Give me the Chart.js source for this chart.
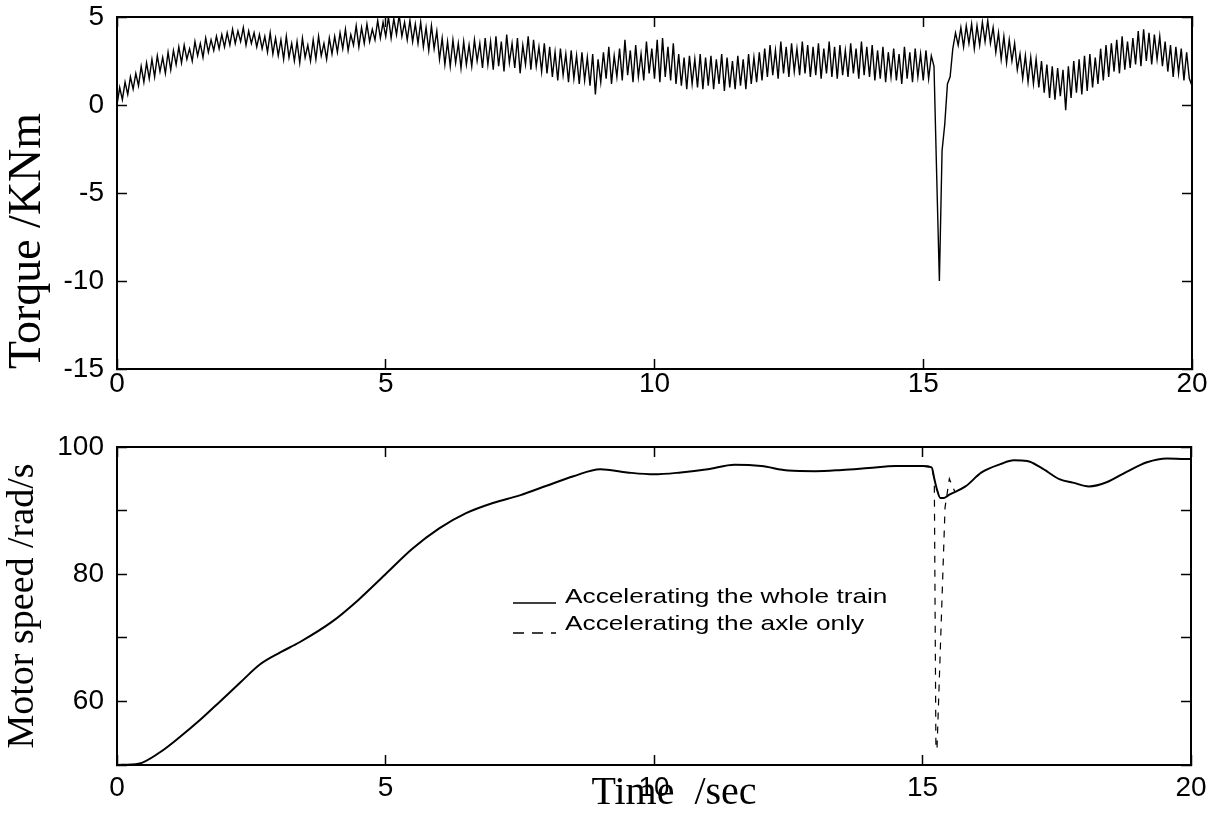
<!DOCTYPE html>
<html>
<head>
<meta charset="utf-8">
<script src="https://cdn.jsdelivr.net/npm/chart.js@4.4.1/dist/chart.umd.min.js"></script>
<style>
  html, body { margin: 0; padding: 0; background: #fff; }
  #wrap { position: relative; width: 1216px; height: 823px; overflow: hidden; }
  canvas { position: absolute; left: 0; }
  #torqueChart { top: 0; }
  #speedChart { top: 420px; }
</style>
</head>
<body>
<div id="wrap">
  <canvas id="torqueChart" width="1216" height="420"></canvas>
  <canvas id="speedChart" width="1216" height="403"></canvas>
</div>
<script>
// ============================================================================
// DATA
// ============================================================================

// Torque sampled every 0.05 s from 0 to 20 s (KNm)
const TORQUE_STEP = 0.05;
const torqueValues = [
  0.0, 1.0, 0.3, 1.3, 0.6, 1.6, 0.9, 1.8, 1.1, 2.2, 1.3, 2.4, 1.5, 2.6, 1.6, 2.8, 1.9, 2.7, 1.8, 3.0,
  2.0, 3.1, 2.3, 3.3, 2.4, 3.4, 2.6, 3.2, 2.5, 3.6, 2.8, 3.5, 2.7, 3.8, 3.0, 3.7, 3.1, 3.9, 3.2, 4.0,
  3.3, 4.1, 3.4, 4.3, 3.5, 4.2, 3.6, 4.4, 3.4, 4.2, 3.5, 4.1, 3.3, 4.0, 3.2, 3.9, 3.0, 4.1, 2.9, 3.8,
  2.8, 3.7, 2.6, 3.9, 2.7, 3.5, 2.5, 3.6, 2.4, 3.8, 2.7, 3.4, 2.5, 3.7, 2.6, 3.9, 2.8, 3.5, 2.6, 3.8,
  2.9, 3.9, 3.0, 4.1, 3.2, 4.3, 3.1, 4.0, 3.4, 4.5, 3.3, 4.4, 3.5, 4.6, 3.6, 4.3, 3.7, 4.8, 3.8, 4.7,
  3.9, 5.0, 3.8, 4.9, 4.0, 5.1, 3.9, 4.7, 3.7, 4.8, 3.6, 4.6, 3.5, 4.7, 3.3, 4.4, 3.1, 4.5, 3.2, 4.2,
  2.6, 3.8, 2.3, 3.6, 2.2, 3.7, 2.4, 3.5, 2.1, 3.6, 2.3, 3.4, 2.2, 3.7, 2.5, 3.5, 2.1, 3.8, 2.3, 3.6,
  2.0, 3.9, 2.2, 3.6, 1.9, 4.0, 2.4, 3.5, 2.1, 3.8, 1.8, 3.4, 2.3, 3.9, 2.0, 3.7, 2.2, 3.3, 1.9, 3.5,
  1.8, 3.3, 1.6, 3.0, 1.4, 3.2, 1.7, 2.9, 1.3, 3.1, 1.5, 2.8, 1.2, 3.0, 1.4, 2.7, 1.1, 2.9, 0.6, 2.6,
  1.3, 3.0, 1.5, 3.3, 1.2, 2.8, 1.6, 3.2, 1.4, 3.7, 1.7, 3.1, 1.3, 3.4, 1.6, 2.9, 1.4, 3.6, 1.8, 3.2,
  1.5, 3.7, 1.3, 3.8, 1.6, 3.3, 1.4, 3.5, 1.2, 2.9, 1.1, 2.7, 0.9, 2.8, 1.2, 2.6, 1.0, 2.9, 0.9, 2.7,
  1.1, 2.8, 0.9, 2.6, 1.2, 2.9, 0.8, 2.7, 1.0, 2.5, 0.9, 2.8, 1.1, 2.6, 0.9, 2.9, 1.2, 2.7, 1.3, 3.0,
  1.4, 3.2, 1.6, 3.4, 1.7, 3.1, 1.5, 3.6, 1.8, 3.3, 1.6, 3.5, 1.9, 3.2, 1.7, 3.6, 1.8, 3.4, 1.6, 3.3,
  1.7, 3.5, 1.5, 3.2, 1.8, 3.6, 1.6, 3.3, 1.5, 3.4, 1.7, 3.1, 1.6, 3.5, 1.8, 3.2, 1.5, 3.6, 1.7, 3.3,
  1.6, 3.4, 1.4, 3.1, 1.5, 3.3, 1.3, 3.0, 1.6, 3.2, 1.4, 2.9, 1.2, 3.3, 1.5, 3.0, 1.3, 3.2, 1.6, 2.9,
  1.4, 3.1, 1.5, 2.8, 2.2, -4.0, -10.0, -2.6, -1.1, 1.2, 1.6, 3.2, 4.1, 3.4, 4.4, 3.3, 4.5, 3.5, 4.6, 3.2,
  4.5, 3.4, 4.7, 3.6, 4.8, 3.5, 4.4, 3.0, 4.1, 2.6, 3.9, 2.4, 3.7, 2.5, 3.5, 2.0, 2.9, 1.5, 2.8, 1.3,
  2.7, 1.2, 2.6, 1.0, 2.5, 0.7, 2.3, 0.4, 2.2, 0.3, 2.1, 0.5, 2.0, -0.3, 2.2, 0.4, 2.5, 0.7, 2.6, 0.6,
  2.8, 0.8, 2.9, 1.0, 2.7, 1.2, 3.2, 1.4, 3.4, 1.6, 3.5, 1.9, 3.7, 1.8, 3.9, 2.0, 3.6, 2.1, 3.8, 2.3,
  4.2, 2.2, 4.3, 2.5, 4.1, 2.3, 4.0, 2.6, 3.9, 2.2, 3.6, 1.9, 3.4, 1.6, 3.3, 1.8, 3.2, 1.4, 3.0, 1.5,
  1.1
];

// Motor speed, accelerating the whole train (rad/s)
const speedTime = [
  0, 0.4, 0.8, 1.17, 1.55, 1.92, 2.3, 2.66, 3.04, 3.4, 4.0, 4.5, 5.0, 5.5, 6.0, 6.5, 7.0, 7.5,
  8.0, 8.5, 9.0, 9.5, 10.0, 10.5, 11.0, 11.5, 12.0, 12.5, 13.0, 13.5, 14.0, 14.5, 15.0, 15.17,
  15.22, 15.27, 15.33, 15.4, 15.5, 15.8, 16.1, 16.45, 16.7, 16.95, 17.2, 17.56, 17.8, 18.1,
  18.44, 18.8, 19.18, 19.55, 19.9, 20
];
const speedValue = [
  50.0, 50.2, 52.0, 54.4, 57.1, 60.0, 63.0, 65.8, 67.7, 69.3, 72.5, 76.0, 80.0, 84.0, 87.2, 89.6, 91.2, 92.4,
  93.9, 95.4, 96.5, 96.0, 95.7, 96.0, 96.5, 97.2, 97.0, 96.3, 96.2, 96.4, 96.7, 97.0, 97.0, 96.8,
  95.0, 93.3, 92.0, 92.0, 92.5, 93.8, 96.0, 97.3, 97.9, 97.8, 96.8, 94.9, 94.4, 93.8,
  94.5, 96.1, 97.6, 98.2, 98.1, 98.1
];

// Motor speed, accelerating the axle only (only where it leaves the other curve)
const axleTime = [15.0, 15.17, 15.22, 15.25, 15.27, 15.42, 15.5, 15.6];
const axleValue = [97.0, 96.8, 95.0, 52.5, 52.5, 90.5, 95.0, 93.0];

// Axis ticks
const timeTicks = [0, 5, 10, 15, 20];
const torqueTicks = [-15, -10, -5, 0, 5];
const speedTicks = [50, 60, 70, 80, 90, 100];
const speedTickLabels = [60, 80, 100];

const legendLabels = ['Accelerating the whole train', 'Accelerating the axle only'];

// ============================================================================
// HELPERS
// ============================================================================

const SANS = '"Liberation Sans", Arial, sans-serif';
const SERIF = '"Liberation Serif", "Times New Roman", serif';

/**
 * Build an inward-ticked, box-style axis (MATLAB look)
 */
function boxAxis(position, min, max, ticks, opts) {
  const isX = position === 'top' || position === 'bottom';
  return {
    type: 'linear',
    position: position,
    min: min,
    max: max,
    afterBuildTicks: function(scale) {
      scale.ticks = ticks.map(v => ({ value: v }));
    },
    afterFit: function(scale) {
      if (isX) {
        scale.height = opts.size;
      } else {
        scale.width = opts.size;
      }
      // keep the plot box exactly where the layout padding puts it
      scale.paddingTop = 0;
      scale.paddingBottom = 0;
      scale.paddingLeft = 0;
      scale.paddingRight = 0;
    },
    border: { display: true, color: '#000', width: 2 },
    grid: {
      display: true,
      drawOnChartArea: false,
      drawTicks: true,
      tickLength: -10,
      tickWidth: 1.5,
      tickColor: '#000'
    },
    ticks: {
      display: opts.labels !== false,
      color: '#000',
      padding: opts.padding || 0,
      maxRotation: 0,
      autoSkip: false,
      font: { family: SANS, size: 28 },
      callback: opts.callback || function(value) { return String(value); }
    },
    title: opts.title || { display: false }
  };
}

/**
 * Legend drawn inside the speed plot
 */
const inlineLegend = {
  id: 'inlineLegend',
  afterDatasetsDraw(chart) {
    const ctx = chart.ctx;
    const rows = [
      { textY: 183, lineY: 183, dash: [] },
      { textY: 210, lineY: 213, dash: [11, 8] }
    ];
    ctx.save();
    rows.forEach((row, i) => {
      ctx.strokeStyle = '#000';
      ctx.lineWidth = 1.5;
      ctx.setLineDash(row.dash);
      ctx.beginPath();
      ctx.moveTo(513, row.lineY);
      ctx.lineTo(556, row.lineY);
      ctx.stroke();

      ctx.save();
      ctx.translate(565, row.textY);
      ctx.scale(1.25, 1);
      ctx.font = '21px ' + SANS;
      ctx.fillStyle = '#000';
      ctx.textBaseline = 'alphabetic';
      ctx.fillText(legendLabels[i], 0, 0);
      ctx.restore();
    });
    ctx.restore();
  }
};

// ============================================================================
// TORQUE CHART
// ============================================================================

function renderTorqueChart(canvasId) {
  const ctx = document.getElementById(canvasId).getContext('2d');

  const chartData = {
    datasets: [{
      label: 'Torque',
      data: torqueValues.map((v, i) => ({ x: i * TORQUE_STEP, y: v })),
      borderColor: '#000',
      borderWidth: 1.4,
      pointRadius: 0,
      tension: 0,
      fill: false
    }]
  };

  return new Chart(ctx, {
    type: 'line',
    data: chartData,
    options: {
      responsive: false,
      animation: false,
      events: [],
      layout: { padding: { left: 0, right: 24, top: 17, bottom: 0 } },
      plugins: { legend: { display: false }, tooltip: { enabled: false } },
      scales: {
        x: boxAxis('bottom', 0, 20, timeTicks, { size: 51, padding: 8 }),
        x2: boxAxis('top', 0, 20, timeTicks, { size: 0, labels: false }),
        y: boxAxis('left', -15, 5, torqueTicks, {
          size: 117,
          padding: 23,
          title: {
            display: true,
            text: 'Torque /KNm',
            align: 'start',
            color: '#000',
            padding: { top: 0, bottom: 0 },
            font: { family: SERIF, size: 46 }
          }
        }),
        y2: boxAxis('right', -15, 5, torqueTicks, { size: 0, labels: false })
      }
    }
  });
}

// ============================================================================
// MOTOR SPEED CHART
// ============================================================================

function renderSpeedChart(canvasId) {
  const ctx = document.getElementById(canvasId).getContext('2d');

  const chartData = {
    datasets: [{
      label: legendLabels[0],
      data: speedTime.map((t, i) => ({ x: t, y: speedValue[i] })),
      borderColor: '#000',
      borderWidth: 2,
      pointRadius: 0,
      cubicInterpolationMode: 'monotone',
      fill: false
    }, {
      label: legendLabels[1],
      data: axleTime.map((t, i) => ({ x: t, y: axleValue[i] })),
      borderColor: '#000',
      borderWidth: 1.2,
      borderDash: [7, 7],
      pointRadius: 0,
      tension: 0,
      fill: false
    }]
  };

  return new Chart(ctx, {
    type: 'line',
    data: chartData,
    options: {
      responsive: false,
      animation: false,
      events: [],
      layout: { padding: { left: 0, right: 25, top: 27, bottom: 0 } },
      plugins: { legend: { display: false }, tooltip: { enabled: false } },
      scales: {
        x: boxAxis('bottom', 0, 20, timeTicks, {
          size: 58,
          padding: 16,
          title: {
            display: true,
            text: '    Time  /sec',
            color: '#000',
            padding: { top: 0, bottom: 6 },
            font: { family: SERIF, size: 40 }
          }
        }),
        x2: boxAxis('top', 0, 20, timeTicks, { size: 0, labels: false }),
        y: boxAxis('left', 50, 100, speedTicks, {
          size: 117,
          padding: 23,
          callback: function(value) {
            return speedTickLabels.includes(value) ? String(value) : '';
          },
          title: {
            display: true,
            text: 'Motor speed /rad/s',
            color: '#000',
            padding: { top: 0, bottom: 0 },
            font: { family: SERIF, size: 38 }
          }
        }),
        y2: boxAxis('right', 50, 100, speedTicks, { size: 0, labels: false })
      }
    },
    plugins: [inlineLegend]
  });
}

renderTorqueChart('torqueChart');
renderSpeedChart('speedChart');
</script>
</body>
</html>
